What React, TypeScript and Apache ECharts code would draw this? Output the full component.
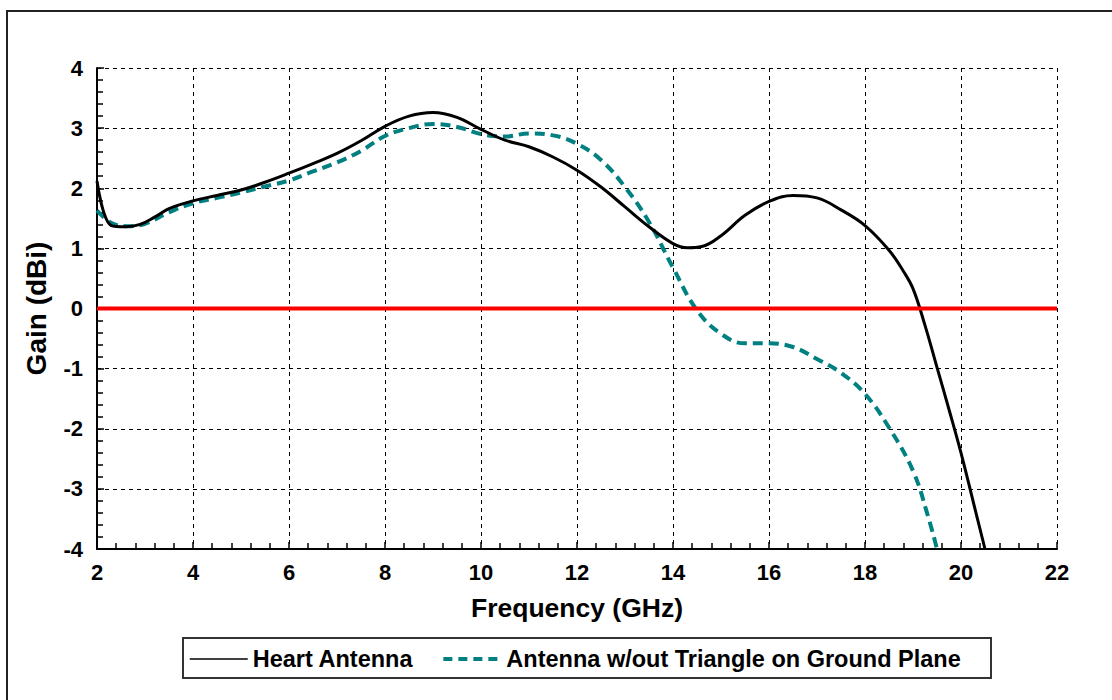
import React, { useEffect, useRef } from "react";
import * as echarts from "echarts";

const heartFreq = [2, 2.3, 2.6, 2.9, 3.2, 3.5, 4, 4.5, 5, 5.5, 6, 6.5, 7, 7.5, 8, 8.5, 9, 9.5, 10, 10.5, 11, 11.5, 12, 12.5, 13, 13.5, 14, 14.3, 14.6, 15, 15.5, 16, 16.5, 17, 17.5, 18, 18.5, 18.8, 19, 19.25, 19.5, 19.75, 20, 20.25, 20.5];
const heartGain = [2.12, 1.38, 1.36, 1.4, 1.52, 1.66, 1.79, 1.88, 1.97, 2.1, 2.25, 2.41, 2.58, 2.79, 3.03, 3.2, 3.26, 3.18, 2.98, 2.8, 2.69, 2.52, 2.3, 2.02, 1.69, 1.36, 1.08, 1.01, 1.03, 1.21, 1.55, 1.78, 1.88, 1.84, 1.64, 1.38, 0.97, 0.62, 0.33, -0.28, -0.98, -1.68, -2.4, -3.2, -4.0];

const plainFreq = [2, 2.3, 2.6, 3, 3.5, 4, 4.5, 5, 5.5, 6, 6.5, 7, 7.5, 8, 8.5, 9, 9.5, 10, 10.5, 11, 11.5, 12, 12.5, 13, 13.5, 14, 14.5, 15, 15.5, 16, 16.5, 17, 17.5, 18, 18.5, 19, 19.3, 19.5];
const plainGain = [1.63, 1.42, 1.37, 1.41, 1.6, 1.75, 1.84, 1.93, 2.03, 2.13, 2.28, 2.43, 2.62, 2.87, 3.0, 3.07, 3.02, 2.9, 2.86, 2.91, 2.88, 2.74, 2.47, 2.02, 1.44, 0.68, -0.03, -0.42, -0.58, -0.58, -0.64, -0.84, -1.07, -1.42, -1.98, -2.7, -3.42, -4.0];

const refFreq = [2, 22];
const refGain = [0, 0];

const seriesNames = ["Heart Antenna", "Antenna w/out Triangle on Ground Plane"];
const xTicks = { min: 2, max: 22, step: 2 };
const yTicks = { min: -4, max: 4, step: 1 };

const FONT = "'Liberation Sans', Arial, sans-serif";

export default function App() {
  const ref = useRef<HTMLDivElement>(null);
  useEffect(() => {
    if (!ref.current) return;
    const chart = echarts.init(ref.current, null, { renderer: "svg" });
    const zip = (xs: number[], ys: number[]) => xs.map((x, i) => [x, ys[i]]);
    chart.setOption({
      animation: false,
      backgroundColor: "#ffffff",
      textStyle: { fontFamily: FONT },
      graphic: [
        {
          type: "rect",
          shape: { x: 7, y: 11, width: 1130, height: 720 },
          style: { fill: "none", stroke: "#222", lineWidth: 2 },
          z: 0,
        },
        {
          type: "rect",
          shape: { x: 183, y: 638, width: 808, height: 40 },
          style: { fill: "#fff", stroke: "#333", lineWidth: 2 },
          z: 0,
        },
      ],
      grid: { left: 97, top: 68, width: 960, height: 481, containLabel: false },
      legend: {
        left: 189,
        top: 647,
        itemWidth: 58,
        itemHeight: 14,
        itemGap: 28,
        padding: 0,
        itemStyle: { opacity: 0 },
        textStyle: { fontSize: 23.5, fontWeight: "bold", color: "#000", fontFamily: FONT },
        data: [
          { name: seriesNames[0], lineStyle: { width: 1.5, color: "#000" } },
          { name: seriesNames[1], lineStyle: { width: 4, color: "#008080", type: [9, 6] } },
        ],
      },
      xAxis: {
        type: "value",
        min: xTicks.min,
        max: xTicks.max,
        interval: xTicks.step,
        name: "Frequency (GHz)",
        nameLocation: "middle",
        nameGap: 45,
        nameTextStyle: { fontSize: 26.5, fontWeight: "bold", color: "#000", fontFamily: FONT },
        axisLine: { show: true, onZero: false, lineStyle: { color: "#000", width: 2 } },
        axisTick: { show: true, inside: true, length: 7, lineStyle: { color: "#000", width: 1.5 } },
        minorTick: { show: true, splitNumber: 5, length: 6, lineStyle: { color: "#000", width: 1.5 } },
        axisLabel: { fontSize: 22, fontWeight: "bold", color: "#000", margin: 12, fontFamily: FONT },
        splitLine: { show: true, lineStyle: { color: "#000", width: 1, type: [4, 4] } },
      },
      yAxis: {
        type: "value",
        min: yTicks.min,
        max: yTicks.max,
        interval: yTicks.step,
        name: "Gain (dBi)",
        nameLocation: "middle",
        nameGap: 47,
        nameTextStyle: { fontSize: 28, fontWeight: "bold", color: "#000", fontFamily: FONT },
        axisLine: { show: true, onZero: false, lineStyle: { color: "#000", width: 2 } },
        axisTick: { show: true, inside: true, length: 7, lineStyle: { color: "#000", width: 1.5 } },
        minorTick: { show: true, splitNumber: 5, length: 6, lineStyle: { color: "#000", width: 1.5 } },
        axisLabel: { fontSize: 22, fontWeight: "bold", color: "#000", margin: 14, fontFamily: FONT },
        splitLine: { show: true, lineStyle: { color: "#000", width: 1, type: [4, 4] } },
      },
      series: [
        {
          name: seriesNames[0],
          type: "line",
          data: zip(heartFreq, heartGain),
          symbol: "none",
          smooth: 0.4,
          lineStyle: { color: "#000", width: 3 },
          itemStyle: { color: "#000" },
          z: 3,
        },
        {
          name: seriesNames[1],
          type: "line",
          data: zip(plainFreq, plainGain),
          symbol: "none",
          smooth: 0.4,
          lineStyle: { color: "#008080", width: 4, type: [10, 6] },
          itemStyle: { color: "#008080" },
          z: 2,
        },
        {
          name: "ref",
          type: "line",
          data: zip(refFreq, refGain),
          symbol: "none",
          lineStyle: { color: "#ff0000", width: 4 },
          itemStyle: { color: "#ff0000" },
          z: 4,
        },
      ],
    });
    return () => chart.dispose();
  }, []);
  return (
    <div
      ref={ref}
      style={{ position: "fixed", left: 0, top: 0, width: 1112, height: 700, background: "#fff" }}
    />
  );
}
